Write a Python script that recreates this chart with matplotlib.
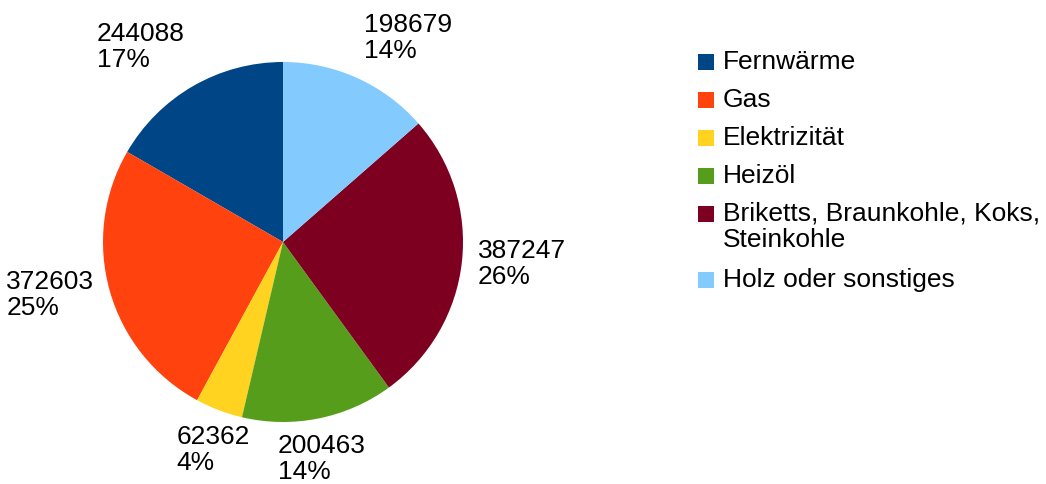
import numpy as np
import matplotlib.pyplot as plt
from matplotlib.patches import Rectangle

plt.rcParams['font.family'] = ['Liberation Sans', 'DejaVu Sans']

W, H = 1046, 484

categories = ["Fernwärme", "Gas", "Elektrizität", "Heizöl",
              "Briketts, Braunkohle, Koks,\nSteinkohle", "Holz oder sonstiges"]
values = [244088, 372603, 62362, 200463, 387247, 198679]
colors = ["#004586", "#ff420e", "#ffd320", "#579d1c", "#7e0021", "#83caff"]


def py(y):
    # pixel row (from top) -> data y
    return H - y


fig = plt.figure(figsize=(W / 100, H / 100), dpi=100)
ax = fig.add_axes([0, 0, 1, 1])

cx, cy, r = 283, py(242), 180
wedges, _ = ax.pie(values, colors=colors, startangle=90, counterclock=True,
                   center=(cx, cy), radius=r,
                   wedgeprops=dict(linewidth=0))
ax.set_xlim(0, W)
ax.set_ylim(0, H)
ax.set_aspect('equal')
ax.axis('off')

total = sum(values)
for w, v in zip(wedges, values):
    mid = np.deg2rad((w.theta1 + w.theta2) / 2)
    c, s = np.cos(mid), np.sin(mid)
    ha = 'center' if abs(c) < 0.38 else ('left' if c > 0 else 'right')
    va = 'center' if abs(s) < 0.4 else ('bottom' if s > 0 else 'top')
    rr = r * 1.09
    ax.text(cx + rr * c, cy + rr * s, "{}\n{:.0f}%".format(v, 100 * v / total),
            ha=ha, va=va, multialignment='left', fontsize=19, color='black',
            linespacing=1.1)

# legend
y = 54
for lab, col in zip(categories, colors):
    ax.add_patch(Rectangle((698, py(y + 16)), 16, 16, facecolor=col, edgecolor='none'))
    ax.text(723, py(y - 4), lab, ha='left', va='top', fontsize=19,
            linespacing=1.1, color='black')
    y += 38 + 28 * lab.count('\n')

fig.savefig("out.png", dpi=100)
